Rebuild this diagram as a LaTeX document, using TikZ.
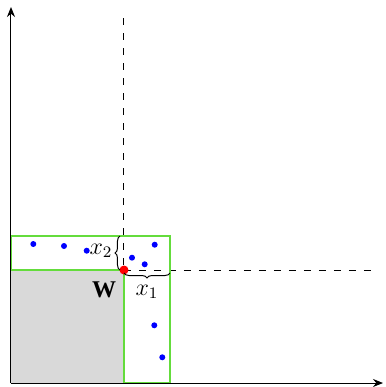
\documentclass[tikz,border=0pt]{standalone}
\usepackage{fontspec}
\setmainfont{Liberation Serif}
\usetikzlibrary{arrows.meta,decorations.pathreplacing}
\definecolor{boxgreen}{RGB}{100,220,60}
\definecolor{greyfill}{RGB}{217,217,217}
\begin{document}
\begin{tikzpicture}[x=0.5pt,y=-0.5pt,
  axis/.style={line width=0.5pt,-{Stealth[length=5pt,width=4pt]}},
  guide/.style={line width=0.5pt,dash pattern=on 3.5pt off 4pt},
  pt/.style={circle,fill=blue,inner sep=0pt,minimum size=3pt},
  wpt/.style={circle,fill=red,inner sep=0pt,minimum size=4.5pt},
  lbl/.style={font=\large,inner sep=1pt},
  brc/.style={decorate,decoration={brace,amplitude=2.5pt},line width=0.5pt}]
\useasboundingbox (0,0) rectangle (386,387);
\coordinate (O) at (11,383);
\coordinate (Ytop) at (11,7);
\coordinate (Xend) at (383,383);
\coordinate (W) at (124,270);
\coordinate (Vtop) at (124,18);
\coordinate (Hend) at (375,270);
\fill[greyfill] (11,270) rectangle (124,383);
\draw[guide] (Vtop) -- (W);
\draw[guide] (W) -- (Hend);
\draw[boxgreen,line width=1.2pt] (11,236) -- (170,236) -- (170,383) -- (124,383) -- (124,270) -- (11,270) -- cycle;
\draw[axis] (O) -- (Ytop);
\draw[axis] (O) -- (Xend);
\node[pt] (p1) at (33.3,244) {};
\node[pt] (p2) at (64,246) {};
\node[pt] (p3) at (86.7,250.7) {};
\node[pt] (p4) at (154.7,244.7) {};
\node[pt] (p5) at (132,257.7) {};
\node[pt] (p6) at (144.7,264.3) {};
\node[pt] (p7) at (154.3,325.3) {};
\node[pt] (p8) at (162.3,357.3) {};
\node[wpt] (wdot) at (W) {};
\coordinate (b2s) at (120,270);
\coordinate (b2e) at (120,236);
\draw[brc] (b2s) -- (b2e);
\coordinate (b1s) at (170,273);
\coordinate (b1e) at (124,273);
\draw[brc] (b1s) -- (b1e);
\node[lbl] (lx2) at (101,251) {$x_2$};
\node[lbl] (lx1) at (147,292) {$x_1$};
\node[lbl] (lw) at (104,290) {\textbf{W}};
\end{tikzpicture}
\end{document}
